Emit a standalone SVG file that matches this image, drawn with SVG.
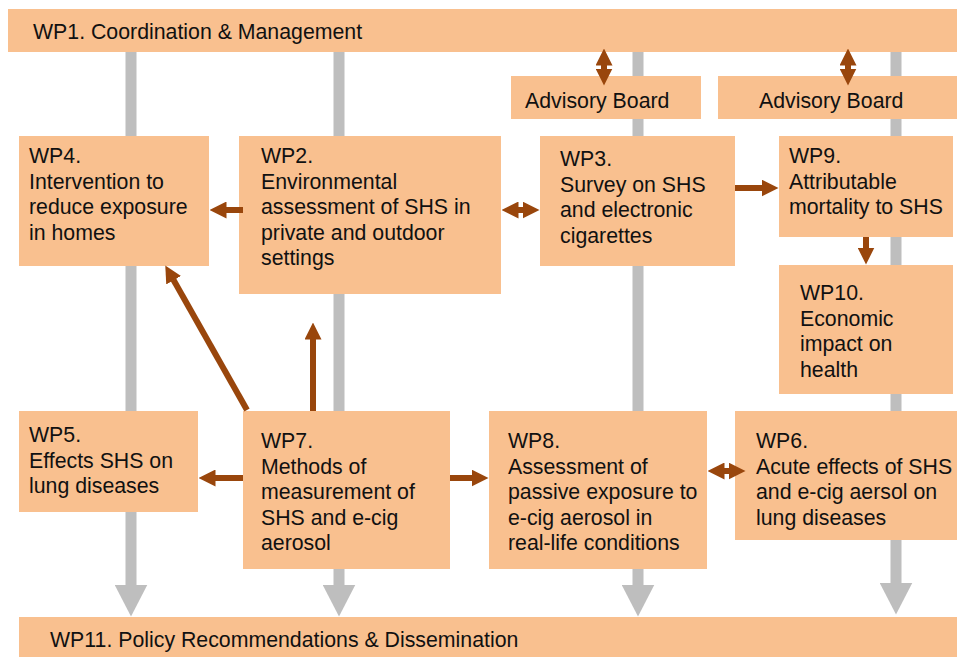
<svg xmlns="http://www.w3.org/2000/svg" width="957" height="657" viewBox="0 0 957 657">
<style>
.box{fill:#F9C08F;}
.t{font-family:"Liberation Sans",Arial,Helvetica,sans-serif;font-size:21.3px;fill:#111;}
.spine{stroke:#BEBEBE;stroke-width:11;fill:none;marker-end:url(#gh);}
.arr{stroke:#99460C;stroke-width:6;fill:none;}
.one{marker-end:url(#ah);}
.two{marker-start:url(#ah);marker-end:url(#ah);}
</style>
<defs>
<marker id="ah" viewBox="0 0 17 17" markerWidth="17" markerHeight="17" markerUnits="userSpaceOnUse" refX="0.5" refY="8.5" orient="auto-start-reverse">
<path d="M0,0 L17,8.5 L0,17 z" fill="#99460C"/>
</marker>
<marker id="gh" viewBox="0 0 32 33" markerWidth="32" markerHeight="33" markerUnits="userSpaceOnUse" refX="0.5" refY="16.5" orient="auto">
<path d="M0,0 L32,16.5 L0,33 z" fill="#BEBEBE"/>
</marker>
</defs>
<rect width="957" height="657" fill="#fff"/>
<g id="connectors-spine">
<path class="spine" d="M131,52 V585"/>
<path class="spine" d="M339,52 V585"/>
<path class="spine" d="M638,52 V585"/>
<path class="spine" d="M896,52 V583"/>
</g>
<g id="WP1"><rect class="box" x="8" y="9" width="949" height="43"/><text class="t" x="33" y="39">WP1. Coordination &amp; Management</text></g>
<g id="AB1"><rect class="box" x="511" y="76" width="190" height="43"/><text class="t" x="525" y="108">Advisory Board</text></g>
<g id="AB2"><rect class="box" x="718" y="76" width="239" height="43"/><text class="t" x="759" y="108">Advisory Board</text></g>
<g id="WP4"><rect class="box" x="19" y="136" width="190" height="130"/><text class="t" x="29" y="163"><tspan x="29">WP4.</tspan><tspan x="29" dy="25.5">Intervention to</tspan><tspan x="29" dy="25.5">reduce exposure</tspan><tspan x="29" dy="25.5">in homes</tspan></text></g>
<g id="WP2"><rect class="box" x="239" y="136" width="262" height="158"/><text class="t" x="261" y="163"><tspan x="261">WP2.</tspan><tspan x="261" dy="25.5">Environmental</tspan><tspan x="261" dy="25.5">assessment of SHS in</tspan><tspan x="261" dy="25.5">private and outdoor</tspan><tspan x="261" dy="25.5">settings</tspan></text></g>
<g id="WP3"><rect class="box" x="540" y="136" width="195" height="130"/><text class="t" x="560" y="166"><tspan x="560">WP3.</tspan><tspan x="560" dy="25.5">Survey on SHS</tspan><tspan x="560" dy="25.5">and electronic</tspan><tspan x="560" dy="25.5">cigarettes</tspan></text></g>
<g id="WP9"><rect class="box" x="779" y="136" width="174" height="101"/><text class="t" x="789" y="163"><tspan x="789">WP9.</tspan><tspan x="789" dy="25.5">Attributable</tspan><tspan x="789" dy="25.5">mortality to SHS</tspan></text></g>
<g id="WP10"><rect class="box" x="779" y="265" width="174" height="129"/><text class="t" x="800" y="300"><tspan x="800">WP10.</tspan><tspan x="800" dy="25.5">Economic</tspan><tspan x="800" dy="25.5">impact on</tspan><tspan x="800" dy="25.5">health</tspan></text></g>
<g id="WP5"><rect class="box" x="19" y="411" width="179" height="101"/><text class="t" x="29" y="442"><tspan x="29">WP5.</tspan><tspan x="29" dy="25.5">Effects SHS on</tspan><tspan x="29" dy="25.5">lung diseases</tspan></text></g>
<g id="WP7"><rect class="box" x="243" y="411" width="207" height="158"/><text class="t" x="261" y="448"><tspan x="261">WP7.</tspan><tspan x="261" dy="25.5">Methods of</tspan><tspan x="261" dy="25.5">measurement of</tspan><tspan x="261" dy="25.5">SHS and e-cig</tspan><tspan x="261" dy="25.5">aerosol</tspan></text></g>
<g id="WP8"><rect class="box" x="489" y="411" width="218" height="158"/><text class="t" x="508" y="448"><tspan x="508">WP8.</tspan><tspan x="508" dy="25.5">Assessment of</tspan><tspan x="508" dy="25.5">passive exposure to</tspan><tspan x="508" dy="25.5">e-cig aerosol in</tspan><tspan x="508" dy="25.5">real-life conditions</tspan></text></g>
<g id="WP6"><rect class="box" x="735" y="411" width="222" height="129"/><text class="t" x="756" y="448"><tspan x="756">WP6.</tspan><tspan x="756" dy="25.5">Acute effects of SHS</tspan><tspan x="756" dy="25.5">and e-cig aersol on</tspan><tspan x="756" dy="25.5">lung diseases</tspan></text></g>
<g id="WP11"><rect class="box" x="19" y="617" width="938" height="40"/><text class="t" x="50" y="647">WP11. Policy Recommendations &amp; Dissemination</text></g>
<g id="connectors">
<path class="arr one" d="M243,210 H226"/>
<path class="arr two" d="M518,210 H523"/>
<path class="arr two" d="M604,65 V69"/>
<path class="arr two" d="M848,65 V69"/>
<path class="arr one" d="M735,188 H762"/>
<path class="arr one" d="M866,237 V248"/>
<path class="arr one" d="M243,478 H215"/>
<path class="arr one" d="M313,411 V339"/>
<path class="arr one" d="M247,410 L173.4,279.8"/>
<path class="arr one" d="M450,478 H472"/>
<path class="arr two" d="M724,471 H729"/>
</g>
</svg>
